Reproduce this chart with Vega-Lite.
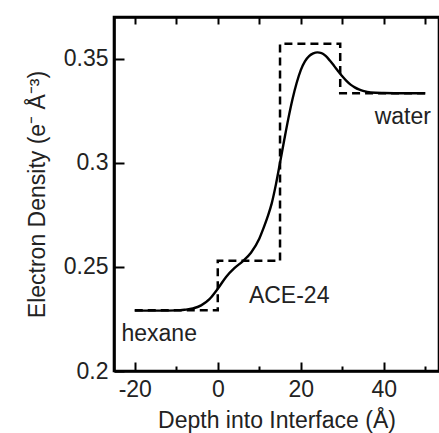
{
  "$schema": "https://vega.github.io/schema/vega-lite/v6.json",
  "autosize": {"type": "none"},
  "padding": {"left": 114, "top": 17, "right": 0, "bottom": 62},
  "width": 325,
  "height": 354,
  "background": "white",
  "config": {
    "view": {"stroke": "black", "strokeWidth": 2.6},
    "font": "Liberation Sans",
    "axis": {
      "grid": false,
      "domainColor": "black",
      "domainWidth": 2.6,
      "tickColor": "black",
      "tickWidth": 2,
      "labelColor": "#222222",
      "titleColor": "#222222",
      "labelFont": "Liberation Sans",
      "titleFont": "Liberation Sans",
      "labelFontSize": 23,
      "titleFontSize": 23,
      "titleFontWeight": "normal"
    }
  },
  "datasets": {
    "step": [
      {"depth": -20, "density": 0.2292},
      {"depth": 0, "density": 0.2529},
      {"depth": 15, "density": 0.3571},
      {"depth": 29.5, "density": 0.3334},
      {"depth": 50, "density": 0.3334}
    ],
    "fit": [
      {"depth": -20, "density": 0.2290},
      {"depth": -14, "density": 0.2290},
      {"depth": -10, "density": 0.2291},
      {"depth": -8, "density": 0.2294},
      {"depth": -6, "density": 0.2300},
      {"depth": -4, "density": 0.2315},
      {"depth": -2, "density": 0.2345},
      {"depth": 0, "density": 0.2395},
      {"depth": 2, "density": 0.2452},
      {"depth": 4, "density": 0.2494},
      {"depth": 6, "density": 0.2527},
      {"depth": 8, "density": 0.2568},
      {"depth": 10, "density": 0.2635},
      {"depth": 11, "density": 0.2685},
      {"depth": 12, "density": 0.2740},
      {"depth": 13, "density": 0.2805},
      {"depth": 14, "density": 0.2895},
      {"depth": 15, "density": 0.3000},
      {"depth": 16, "density": 0.3108},
      {"depth": 17, "density": 0.3212},
      {"depth": 18, "density": 0.3305},
      {"depth": 19, "density": 0.3383},
      {"depth": 20, "density": 0.3445},
      {"depth": 21, "density": 0.3487},
      {"depth": 22, "density": 0.3512},
      {"depth": 23, "density": 0.3525},
      {"depth": 24, "density": 0.3530},
      {"depth": 25, "density": 0.3527},
      {"depth": 26, "density": 0.3513},
      {"depth": 27, "density": 0.3491},
      {"depth": 28, "density": 0.3466},
      {"depth": 29, "density": 0.3440},
      {"depth": 30, "density": 0.3415},
      {"depth": 31, "density": 0.3393},
      {"depth": 32, "density": 0.3375},
      {"depth": 33, "density": 0.3362},
      {"depth": 34, "density": 0.3352},
      {"depth": 35, "density": 0.3345},
      {"depth": 36, "density": 0.3340},
      {"depth": 38, "density": 0.3336},
      {"depth": 40, "density": 0.3335},
      {"depth": 45, "density": 0.3334},
      {"depth": 50, "density": 0.3334}
    ],
    "notes": [
      {"depth": -23.2, "density": 0.2142, "text": "hexane"},
      {"depth": 7.5, "density": 0.2326, "text": "ACE-24"},
      {"depth": 37.8, "density": 0.3184, "text": "water"}
    ]
  },
  "layer": [
    {
      "data": {"name": "step"},
      "mark": {"type": "line", "interpolate": "step-after", "strokeDash": [8, 5], "strokeWidth": 2.5, "color": "black"},
      "encoding": {
        "x": {
          "field": "depth", "type": "quantitative",
          "scale": {"domain": [-25, 53.3], "nice": false, "zero": false},
          "axis": {
            "orient": "bottom",
            "title": "Depth into Interface (Å)",
            "values": [-20, -10, 0, 10, 20, 30, 40, 50],
            "labelExpr": "datum.value % 20 === 0 ? toString(datum.value) : ''",
            "tickSize": {"condition": {"test": "datum.value % 20 === 0", "value": -9}, "value": -5},
            "labelPadding": 16,
            "labelFlush": false,
            "labelOverlap": false,
            "titlePadding": 4
          }
        },
        "y": {
          "field": "density", "type": "quantitative",
          "scale": {"domain": [0.2, 0.37], "nice": false, "zero": false},
          "axis": {
            "orient": "left",
            "title": "Electron Density (e⁻ Å⁻³)",
            "values": [0.2, 0.25, 0.3, 0.35],
            "format": ".2~f",
            "tickSize": -10,
            "labelPadding": 16,
            "labelFlush": false,
            "labelOverlap": false,
            "titlePadding": 14
          }
        }
      }
    },
    {
      "data": {"name": "fit"},
      "mark": {"type": "line", "interpolate": "monotone", "strokeWidth": 2.4, "color": "black"},
      "encoding": {
        "x": {
          "field": "depth", "type": "quantitative",
          "axis": {
            "orient": "top",
            "title": null,
            "labels": false,
            "values": [-20, -10, 0, 10, 20, 30, 40, 50],
            "tickSize": -7
          }
        },
        "y": {"field": "density", "type": "quantitative", "axis": null}
      }
    },
    {
      "data": {"name": "notes"},
      "mark": {"type": "text", "align": "left", "baseline": "alphabetic", "fontSize": 23, "font": "Liberation Sans", "color": "#222222"},
      "encoding": {
        "x": {"field": "depth", "type": "quantitative", "axis": null},
        "y": {"field": "density", "type": "quantitative", "axis": null},
        "text": {"field": "text"}
      }
    }
  ],
  "resolve": {"axis": {"x": "independent", "y": "independent"}}
}
